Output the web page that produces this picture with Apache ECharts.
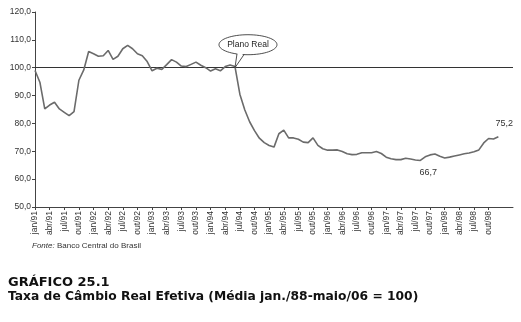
<!DOCTYPE html>
<html><head><meta charset="utf-8">
<script src="https://cdn.jsdelivr.net/npm/echarts@6/dist/echarts.min.js"></script>
<style>html,body{margin:0;padding:0;background:#fff}#c{width:521px;height:322px}</style>
</head><body><div id="c"></div>
<script>
// ---- data ----
const monthNames = ['jan','fev','mar','abr','mai','jun','jul','ago','set','out','nov','dez'];
const years = ['91','92','93','94','95','96','97','98','99'];
const lastLabelIndex = 93;      // out/98 is the last tick label
const categoryCount = 99;        // axis runs a little past the data (to mar/99)
const values = [
  99.0, 94.8, 85.2, 86.6, 87.6, 85.2, 84.0, 82.8, 84.2, 95.5, 99.2, 105.8,
  105.0, 104.1, 104.3, 106.2, 103.0, 104.1, 106.8, 108.0, 106.8, 105.0, 104.3, 102.2,
  98.9, 99.8, 99.4, 101.1, 102.9, 102.0, 100.6, 100.4, 101.2, 102.0, 100.9, 100.0,
  98.8, 99.6, 98.9, 100.4, 101.0, 100.4, 90.5, 84.9, 80.6, 77.4, 74.7, 73.1,
  72.1, 71.5, 76.3, 77.6, 74.8, 74.8, 74.3, 73.3, 73.1, 74.8, 72.1, 70.9,
  70.4, 70.4, 70.5, 69.9, 69.1, 68.8, 68.9, 69.5, 69.5, 69.5, 69.9, 69.2,
  67.9, 67.3, 67.0, 67.0, 67.5, 67.2, 66.9, 66.7, 68.0, 68.7, 69.0, 68.2,
  67.6, 67.9, 68.3, 68.7, 69.1, 69.4, 69.8, 70.5, 73.0, 74.6, 74.4, 75.2
];
const referenceLevel = 100;
const yMin = 50, yMax = 120, yStep = 10;
const annotationIndex = [79, 95];
const annotationText = ['66,7', '75,2'];
const annotationPos = ['bottom', 'top'];
const planoRealIndex = 41;
const planoRealText = 'Plano Real';
const sourceText = 'Banco Central do Brasil';
const titleLine1 = 'GRÁFICO 25.1';
const titleLine2 = 'Taxa de Câmbio Real Efetiva (Média jan./88-maio/06 = 100)';

// ---- build ----
const categories = [];
for (let i = 0; i < categoryCount; i++) {
  categories.push(monthNames[i % 12] + '/' + years[Math.floor(i / 12)]);
}
const markPoints = annotationIndex.map((idx, k) => ({
  coord: [idx, values[idx]],
  value: annotationText[k],
  label: {
    position: annotationPos[k],
    offset: annotationPos[k] === 'bottom' ? [8, 3] : [6, -4]
  }
}));

const chart = echarts.init(document.getElementById('c'), null, {renderer: 'canvas'});
const axisColor = '#444';
chart.setOption({
  animation: false,
  backgroundColor: '#fff',
  grid: {left: 35, top: 12, width: 478, height: 195, containLabel: false},
  xAxis: {
    type: 'category', data: categories, boundaryGap: false,
    axisLine: {lineStyle: {color: axisColor, width: 1}},
    axisTick: {show: true, length: 3, lineStyle: {color: axisColor},
      interval: (i) => i % 3 === 0 && i <= lastLabelIndex},
    axisLabel: {
      rotate: 90, fontSize: 8.5, color: '#333', margin: 4,
      fontFamily: 'Liberation Sans, Arial',
      interval: (i) => i % 3 === 0 && i <= lastLabelIndex
    },
    splitLine: {show: false}
  },
  yAxis: {
    type: 'value', min: yMin, max: yMax, interval: yStep,
    axisLine: {show: true, lineStyle: {color: axisColor, width: 1}},
    axisTick: {show: true, length: 3, lineStyle: {color: axisColor}},
    axisLabel: {fontSize: 8.5, color: '#333', margin: 4,
      fontFamily: 'Liberation Sans, Arial',
      formatter: v => v.toFixed(1).replace('.', ',')},
    splitLine: {show: false}
  },
  title: [
    {text: '{i|Fonte:} ' + sourceText, left: 32, top: 242, padding: 0,
      textStyle: {fontSize: 8, fontWeight: 'normal', color: '#333',
        fontFamily: 'Liberation Sans Narrow, Liberation Sans, Arial',
        rich: {i: {fontStyle: 'italic', fontSize: 8, color: '#333',
          fontFamily: 'Liberation Sans Narrow, Liberation Sans, Arial'}}}},
    {text: titleLine1, left: 8, top: 276, padding: 0,
      textStyle: {fontSize: 13, fontWeight: 'bold', color: '#111', fontFamily: 'DejaVu Sans'}},
    {text: titleLine2, left: 8, top: 291, padding: 0,
      textStyle: {fontSize: 12.3, fontWeight: 'bold', color: '#111', fontFamily: 'DejaVu Sans'}}
  ],
  series: [{
    type: 'line', data: values, symbol: 'none', smooth: false,
    lineStyle: {color: '#6b6b6b', width: 1.6},
    z: 3,
    markLine: {
      silent: true, symbol: 'none', label: {show: false},
      lineStyle: {color: '#333', width: 1, type: 'solid'},
      data: [{yAxis: referenceLevel}],
      z: 2
    },
    markPoint: {
      silent: true, symbol: 'circle', symbolSize: 0,
      itemStyle: {color: 'transparent'},
      label: {show: true, formatter: p => p.value, fontSize: 9, color: '#333',
        fontFamily: 'Liberation Sans, Arial'},
      data: markPoints
    }
  }]
});

// Plano Real speech bubble anchored to the data point
const tip = chart.convertToPixel({xAxisIndex: 0, yAxisIndex: 0}, [planoRealIndex, referenceLevel]);
const cx = tip[0] + 13, cy = tip[1] - 23, rx = 29, ry = 10;
const b1x = cx - 11, b1y = cy + ry * Math.sqrt(1 - (11 / rx) ** 2);
const b2x = cx - 4, b2y = cy + ry * Math.sqrt(1 - (4 / rx) ** 2);
chart.setOption({
  graphic: [
    {type: 'ellipse', shape: {cx: cx, cy: cy, rx: rx, ry: ry},
      style: {fill: '#fff', stroke: '#222', lineWidth: 0.8}, z: 10},
    {type: 'polygon', shape: {points: [[b1x + 0.5, b1y - 1.5], tip, [b2x - 0.5, b2y - 1.5]]},
      style: {fill: '#fff', stroke: null}, z: 11},
    {type: 'polyline', shape: {points: [[b1x, b1y], tip, [b2x, b2y]]},
      style: {stroke: '#222', lineWidth: 0.8, fill: null}, z: 12},
    {type: 'text', x: cx, y: cy, z: 13,
      style: {text: planoRealText, fontSize: 8.5, fill: '#222',
        fontFamily: 'Liberation Sans, Arial', align: 'center', verticalAlign: 'middle'}}
  ]
});
</script></body></html>
